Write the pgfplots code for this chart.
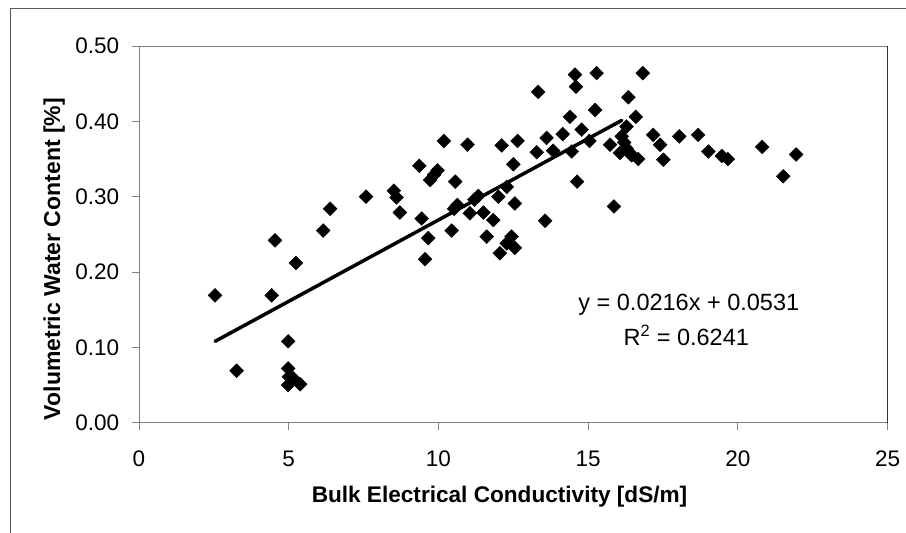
\documentclass[border=0pt]{standalone}
\usepackage{pgfplots}
\pgfplotsset{compat=1.18}
\usepackage{fontspec}
\setmainfont{Liberation Sans}
\definecolor{axgray}{HTML}{808080}
\definecolor{framegray}{HTML}{5A5A5A}
\definecolor{edgedark}{HTML}{333333}
\newcommand{\tickfont}{\fontsize{22.5}{27}\selectfont}
\pgfplotstableread{
x y
2.54 0.169
3.26 0.069
4.43 0.169
4.54 0.242
4.98 0.108
4.98 0.072
4.98 0.050
5.38 0.051
5.15 0.059
5.00 0.061
5.24 0.212
6.15 0.255
6.38 0.284
7.58 0.300
10.18 0.374
10.97 0.369
12.11 0.368
12.64 0.374
13.61 0.378
14.15 0.383
13.28 0.359
13.83 0.361
12.50 0.343
9.36 0.341
9.97 0.335
9.72 0.322
9.85 0.329
10.56 0.320
8.51 0.308
8.60 0.299
12.28 0.313
8.71 0.279
11.33 0.301
11.20 0.296
10.63 0.289
10.52 0.284
12.00 0.300
12.55 0.291
9.44 0.271
11.05 0.278
11.50 0.279
11.83 0.269
13.56 0.268
10.44 0.255
9.66 0.245
11.61 0.247
12.44 0.247
12.28 0.238
12.55 0.232
12.05 0.225
9.55 0.217
14.56 0.462
14.59 0.446
15.28 0.464
16.82 0.464
13.33 0.439
16.34 0.432
14.39 0.406
15.23 0.415
16.59 0.406
14.78 0.389
16.28 0.393
16.12 0.380
17.17 0.382
18.04 0.380
18.67 0.382
14.45 0.360
15.04 0.374
15.73 0.369
16.06 0.358
16.28 0.364
16.20 0.372
16.39 0.358
16.45 0.355
16.67 0.350
17.40 0.369
17.51 0.349
19.01 0.360
14.63 0.320
15.86 0.287
19.46 0.354
19.66 0.350
20.81 0.366
21.51 0.327
21.94 0.356
}\datatable
\begin{document}
\begin{tikzpicture}[x=1pt,y=1pt]
\path[use as bounding box] (0,0) rectangle (906,533);
\draw[framegray, line width=1pt] (10.3,0) -- (10.3,524.7) -- (906,524.7);
\begin{axis}[
  at={(139pt,110.3pt)}, anchor=south west,
  width=748.7pt, height=376.7pt, scale only axis,
  xmin=0, xmax=25, ymin=0, ymax=0.5,
  xtick={0,5,10,15,20,25}, ytick={0,0.1,0.2,0.3,0.4,0.5},
  xticklabels={0,5,10,15,20,25},
  yticklabels={0.00,0.10,0.20,0.30,0.40,0.50},
  xtick pos=bottom, ytick pos=left,
  tick align=outside, major tick length=7pt,
  tick style={axgray, line width=1pt},
  axis line style={axgray, line width=1pt},
  scaled y ticks=false,
  tick label style={font=\tickfont, inner sep=0pt},
  xticklabel style={yshift=-20.7pt},
  yticklabel style={xshift=-12.7pt},
  clip=false,
  after end axis/.code={\draw[edgedark, line width=1pt] (rel axis cs:1,0) -- (rel axis cs:1,1);},
]
\addplot[only marks, mark=square*, mark size=4.9pt, mark options={rotate=45, fill=black, draw=black, line width=0.4pt}] table[x=x,y=y] {\datatable};
\addplot[black, line width=3.5pt, line cap=round] coordinates {(2.54,0.1080) (16.12,0.4013)};
\end{axis}
\node[anchor=base, inner sep=0pt, font=\fontsize{23.5}{28}\selectfont] at (688.8,222.3) {y = 0.0216x + 0.0531};
\node[anchor=base, inner sep=0pt, font=\fontsize{23.5}{28}\selectfont] at (686.3,187) {R\textsuperscript{2} = 0.6241};
\node[anchor=base, inner sep=0pt, font=\fontsize{22.6}{27}\selectfont\bfseries] at (499.5,30) {Bulk Electrical Conductivity [dS/m]};
\node[anchor=base, inner sep=0pt, rotate=90, font=\fontsize{23}{27}\selectfont\bfseries] at (60,274) {Volumetric Water Content [\%]};
\end{tikzpicture}
\end{document}
